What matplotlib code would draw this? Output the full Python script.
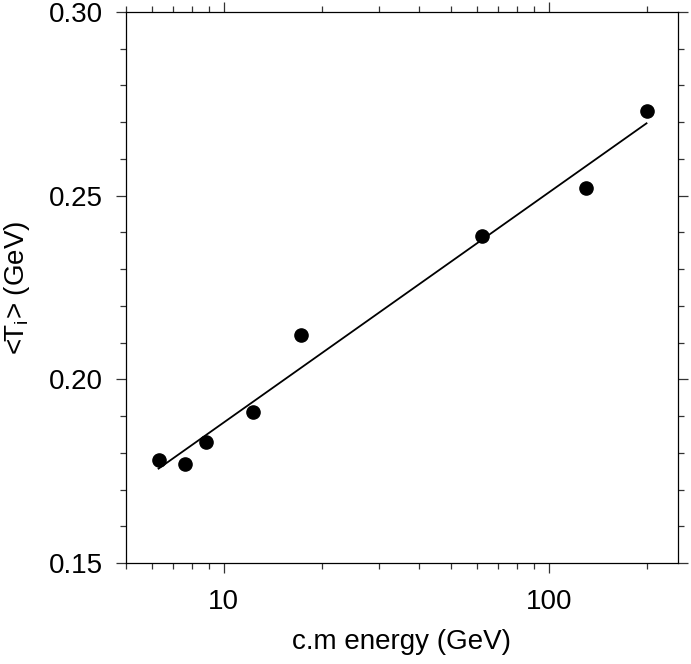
import matplotlib
matplotlib.use("Agg")
import matplotlib.pyplot as plt
from matplotlib.ticker import LogLocator, MultipleLocator, FixedFormatter, FixedLocator

plt.rcParams['font.family'] = ['Liberation Sans', 'DejaVu Sans']

# c.m. energy (GeV) and mean temperature <T_i> (GeV)
energy = [6.3, 7.6, 8.8, 12.3, 17.3, 62.4, 130, 200]
temp = [0.178, 0.177, 0.183, 0.191, 0.212, 0.239, 0.252, 0.273]

# straight-line fit (log scale)
fit_energy = [6.3, 200]
fit_temp = [0.1757, 0.2697]

fig = plt.figure(figsize=(6.91, 6.64), dpi=100)
ax = fig.add_axes([0.1823, 0.1521, 0.7989, 0.8298])

ax.plot(fit_energy, fit_temp, color="black", lw=1.3)
ax.plot(energy, temp, "o", color="black", markersize=9.5)

ax.set_xscale("log")
ax.set_xlim(5, 250)
ax.set_ylim(0.15, 0.30)

ax.xaxis.set_major_locator(FixedLocator([10, 100]))
ax.xaxis.set_major_formatter(FixedFormatter(["10", "100"]))
ax.xaxis.set_minor_locator(LogLocator(base=10, subs=range(2, 10)))
ax.xaxis.set_minor_formatter(plt.NullFormatter())
ax.yaxis.set_major_locator(MultipleLocator(0.05))
ax.yaxis.set_minor_locator(MultipleLocator(0.01))
ax.yaxis.set_major_formatter(plt.FormatStrFormatter("%.2f"))

ax.tick_params(which="both", direction="out", top=True, right=True,
               labeltop=False, labelright=False, width=0.9, color="#333333")
ax.tick_params(which="major", length=7.5, labelsize=20)
ax.tick_params(axis="x", which="major", pad=11)
ax.tick_params(axis="y", which="major", pad=9)
ax.tick_params(which="minor", length=4)
for s in ax.spines.values():
    s.set_linewidth(0.9)

ax.set_xlabel("c.m energy (GeV)", fontsize=20, labelpad=10)
ax.set_ylabel(r"<T$_\mathregular{i}$> (GeV)", fontsize=20, labelpad=12)

fig.savefig("out.png", dpi=100)
